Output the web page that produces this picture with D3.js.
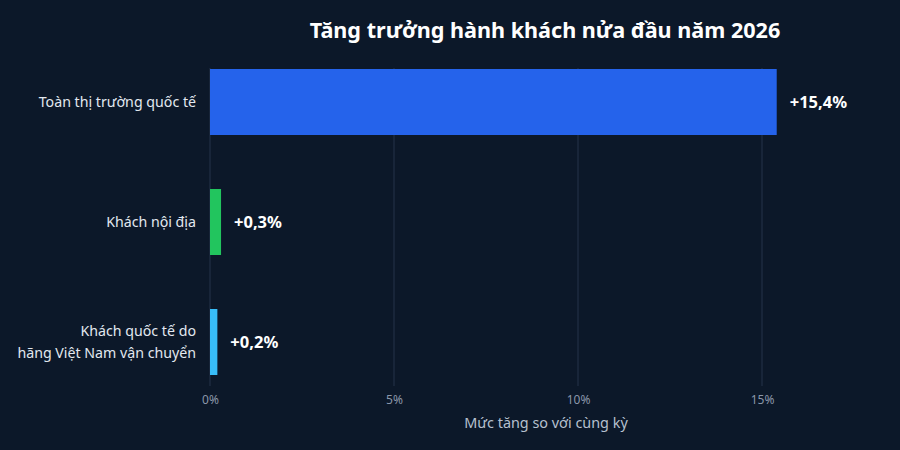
<!DOCTYPE html>
<html>
<head>
<meta charset="utf-8">
<script src="https://cdn.jsdelivr.net/npm/d3@7"></script>
<style>
  html, body { margin: 0; padding: 0; background: #0c1829; }
  svg { display: block; font-family: "Noto Sans", "Open Sans", sans-serif; }
</style>
</head>
<body>
<svg id="chart" width="900" height="450"></svg>
<script>
/* data */
const categories = ["Toàn thị trường quốc tế", "Khách nội địa", "Khách quốc tế do|hãng Việt Nam vận chuyển"];
const values     = [15.4, 0.3, 0.2];
const valueLabels = ["+15,4%", "+0,3%", "+0,2%"];
const barColors  = ["#2563eb", "#22c55e", "#38bdf8"];
const ticks      = [0, 5, 10, 15];
const tickLabels = ["0%", "5%", "10%", "15%"];

const W = 900, H = 450;
const m = {top: 60, right: 20, bottom: 66, left: 210};

const svg = d3.select("#chart");
svg.append("rect").attr("width", W).attr("height", H).attr("fill", "#0c1829");

const x = d3.scaleLinear().domain([0, 15]).range([m.left, m.left + 552]);
const y = d3.scaleBand().domain(categories).range([m.top, H - m.bottom]).paddingInner(0.45).paddingOuter(0.075);

/* grid */
svg.append("g").selectAll("line")
  .data(ticks).enter().append("line")
  .attr("x1", d => x(d)).attr("x2", d => x(d))
  .attr("y1", m.top + 8).attr("y2", H - m.bottom + 2)
  .attr("stroke", "#25324a").attr("stroke-width", 1);

/* bars */
svg.append("g").selectAll("rect")
  .data(values).enter().append("rect")
  .attr("x", x(0))
  .attr("y", (d, i) => y(categories[i]))
  .attr("width", d => x(d) - x(0))
  .attr("height", y.bandwidth())
  .attr("fill", (d, i) => barColors[i]);

/* value labels */
svg.append("g").selectAll("text")
  .data(values).enter().append("text")
  .attr("x", d => x(d) + 13)
  .attr("y", (d, i) => y(categories[i]) + y.bandwidth() / 2)
  .attr("dy", "0.35em")
  .attr("fill", "#ffffff").attr("font-size", 16.5).attr("font-weight", 700)
  .text((d, i) => valueLabels[i]);

/* category labels */
const cat = svg.append("g").selectAll("text")
  .data(categories).enter().append("text")
  .attr("x", m.left - 14)
  .attr("y", d => y(d) + y.bandwidth() / 2)
  .attr("text-anchor", "end")
  .attr("fill", "#e2e8f0").attr("font-size", 14.2);
cat.each(function(d) {
  const lines = d.split("|");
  const t = d3.select(this);
  lines.forEach((l, i) => {
    t.append("tspan").attr("x", m.left - 14)
      .attr("dy", i === 0 ? (0.35 - (lines.length - 1) * 0.75) + "em" : "1.5em")
      .text(l);
  });
});

/* x axis */
const xAxis = svg.append("g")
  .attr("transform", `translate(0,${H - m.bottom + 3})`)
  .call(d3.axisBottom(x).tickValues(ticks).tickFormat((d, i) => tickLabels[i]).tickSize(0).tickPadding(8));
xAxis.select(".domain").remove();
xAxis.selectAll("text").attr("fill", "#8b97aa").attr("font-size", 12).attr("font-family", "Noto Sans, sans-serif");

svg.append("text")
  .attr("x", 546).attr("y", 428)
  .attr("text-anchor", "middle")
  .attr("fill", "#b6c0cf").attr("font-size", 14.4)
  .text("Mức tăng so với cùng kỳ");

/* title */
svg.append("text")
  .attr("x", 545).attr("y", 38)
  .attr("text-anchor", "middle")
  .attr("fill", "#ffffff").attr("font-size", 21.6).attr("font-weight", 700)
  .text("Tăng trưởng hành khách nửa đầu năm 2026");
</script>
</body>
</html>
